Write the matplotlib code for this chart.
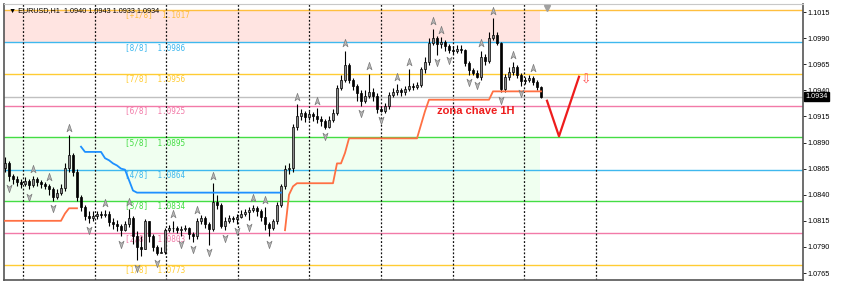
import numpy as np
import matplotlib.pyplot as plt
from matplotlib.path import Path
from matplotlib.transforms import blended_transform_factory

# hourly EURUSD candles (open = previous close)
first_open = 1.0866
closes = [
    1.0870, 1.0858, 1.0855, 1.0852, 1.0850, 1.0853, 1.0849, 1.0855, 1.0852, 1.0850,
    1.0848, 1.0845, 1.0838, 1.0842, 1.0846, 1.0866, 1.0878, 1.0862, 1.0838, 1.0828,
    1.0820, 1.0818, 1.0820, 1.0822, 1.0821, 1.0822, 1.0814, 1.0812, 1.0810, 1.0806,
    1.0812, 1.0818, 1.0800, 1.0790, 1.0788, 1.0815, 1.0800, 1.0790, 1.0784, 1.0785,
    1.0806, 1.0808, 1.0808, 1.0806, 1.0807, 1.0808, 1.0802, 1.0800, 1.0815, 1.0818,
    1.0812, 1.0807, 1.0833, 1.0830, 1.0810, 1.0815, 1.0818, 1.0817, 1.0819, 1.0822,
    1.0823, 1.0825, 1.0827, 1.0824, 1.0819, 1.0812, 1.0808, 1.0815, 1.0830, 1.0848,
    1.0865, 1.0866, 1.0905, 1.0915, 1.0918, 1.0914, 1.0917, 1.0915, 1.0913, 1.0911,
    1.0905, 1.0912, 1.0918, 1.0942, 1.0950, 1.0964, 1.0950, 1.0944, 1.0937, 1.0930,
    1.0935, 1.0938, 1.0935, 1.0922, 1.0920, 1.0925, 1.0936, 1.0938, 1.0940, 1.0938,
    1.0941, 1.0944, 1.0943, 1.0945, 1.0960, 1.0967, 1.0985, 1.0990, 1.0984, 1.0986,
    1.0982, 1.0979, 1.0978, 1.0980, 1.0979, 1.0966, 1.0959, 1.0957, 1.0953, 1.0972,
    1.0968, 1.0990, 1.0993, 1.0985, 1.0941, 1.0953, 1.0958, 1.0962, 1.0955, 1.0949,
    1.0950, 1.0952, 1.0948, 1.0943, 1.0934]
highs = [
    1.0876, 1.0872, 1.0860, 1.0858, 1.0855, 1.0857, 1.0855, 1.0858, 1.0857, 1.0854,
    1.0852, 1.0850, 1.0847, 1.0845, 1.0850, 1.0870, 1.0897, 1.0880, 1.0865, 1.0840,
    1.0830, 1.0824, 1.0824, 1.0824, 1.0824, 1.0825, 1.0824, 1.0818, 1.0816, 1.0812,
    1.0815, 1.0826, 1.0820, 1.0805, 1.0800, 1.0817, 1.0815, 1.0802, 1.0792, 1.0790,
    1.0808, 1.0811, 1.0815, 1.0810, 1.0810, 1.0811, 1.0809, 1.0804, 1.0818, 1.0821,
    1.0820, 1.0814, 1.0851, 1.0840, 1.0832, 1.0819, 1.0821, 1.0820, 1.0822, 1.0825,
    1.0826, 1.0828, 1.0830, 1.0829, 1.0826, 1.0828, 1.0814, 1.0817, 1.0833, 1.0850,
    1.0868, 1.0870, 1.0908, 1.0927, 1.0922, 1.0920, 1.0920, 1.0919, 1.0923, 1.0915,
    1.0913, 1.0915, 1.0922, 1.0945, 1.0955, 1.0978, 1.0966, 1.0952, 1.0946, 1.0940,
    1.0940, 1.0956, 1.0942, 1.0937, 1.0925, 1.0928, 1.0938, 1.0942, 1.0946, 1.0942,
    1.0944, 1.0960, 1.0947, 1.0948, 1.0962, 1.0972, 1.0990, 1.0999, 1.0992, 1.0991,
    1.0988, 1.0984, 1.0982, 1.0983, 1.0983, 1.0980, 1.0968, 1.0961, 1.0959, 1.0978,
    1.0975, 1.0996, 1.1009, 1.0996, 1.0986, 1.0956, 1.0962, 1.0967, 1.0964, 1.0957,
    1.0953, 1.0955, 1.0954, 1.0950, 1.0944]
lows = [
    1.0862, 1.0853, 1.0850, 1.0848, 1.0846, 1.0848, 1.0845, 1.0847, 1.0848, 1.0846,
    1.0845, 1.0840, 1.0834, 1.0836, 1.0840, 1.0844, 1.0862, 1.0858, 1.0834, 1.0824,
    1.0816, 1.0813, 1.0815, 1.0817, 1.0818, 1.0819, 1.0810, 1.0807, 1.0805, 1.0800,
    1.0805, 1.0809, 1.0793, 1.0777, 1.0781, 1.0788, 1.0795, 1.0786, 1.0782, 1.0784,
    1.0783, 1.0804, 1.0804, 1.0803, 1.0800, 1.0805, 1.0798, 1.0795, 1.0798, 1.0812,
    1.0808, 1.0792, 1.0805, 1.0826, 1.0808, 1.0806, 1.0813, 1.0814, 1.0812, 1.0818,
    1.0820, 1.0816, 1.0823, 1.0820, 1.0815, 1.0806, 1.0800, 1.0806, 1.0812, 1.0828,
    1.0845, 1.0860, 1.0862, 1.0902, 1.0912, 1.0910, 1.0912, 1.0911, 1.0909, 1.0906,
    1.0903, 1.0904, 1.0910, 1.0916, 1.0940, 1.0948, 1.0947, 1.0940, 1.0930, 1.0925,
    1.0928, 1.0933, 1.0930, 1.0918, 1.0919, 1.0918, 1.0922, 1.0934, 1.0936, 1.0935,
    1.0936, 1.0939, 1.0940, 1.0941, 1.0943, 1.0957, 1.0964, 1.0983, 1.0974, 1.0981,
    1.0978, 1.0976, 1.0975, 1.0976, 1.0976, 1.0963, 1.0955, 1.0955, 1.0952, 1.0950,
    1.0964, 1.0966, 1.0988, 1.0983, 1.0938, 1.0938, 1.0950, 1.0955, 1.0952, 1.0944,
    1.0946, 1.0948, 1.0945, 1.0940, 1.0933]

# fractal bars
up_fractals = [7, 11, 16, 25, 31, 42, 48, 52, 62, 65, 73, 78, 85, 91, 98, 101,
               107, 109, 119, 122, 127, 132]
down_fractals = [1, 6, 12, 21, 29, 33, 38, 44, 47, 51, 55, 58, 61, 66, 80, 89,
                 94, 108, 111, 116, 118, 124, 129]

# blue indicator (bars 19..69) and orange trailing line (two pieces)
blue_start = 19
blue_vals = ([1.0886, 1.0881, 1.0881, 1.0881, 1.0881, 1.0881, 1.0875, 1.0873,
              1.0870, 1.0868, 1.0865, 1.0864, 1.0854, 1.0844] + [1.0842] * 37)
orange1_start = 0
orange1_vals = [1.0815] * 15 + [1.0822] + [1.0827] * 3
orange2_start = 70
orange2_vals = ([1.0806, 1.0840, 1.0848] + [1.0851] * 10 + [1.0870, 1.0870, 1.0880]
                + [1.0894] * 18 + [1.0907, 1.0920] + [1.0931] * 16 + [1.0939] * 13)

# Murrey math levels
murrey_names = ["[+1/8]", "[8/8]", "[7/8]", "[6/8]", "[5/8]", "[4/8]", "[3/8]", "[2/8]", "[1/8]"]
murrey_levels = [1.1017, 1.0986, 1.0956, 1.0925, 1.0895, 1.0864, 1.0834, 1.0803, 1.0773]
murrey_colors = ["#ffbf3f", "#3fb8ee", "#ffcc33", "#f27aa8", "#44dd44",
                 "#3fb8ee", "#44dd44", "#f27aa8", "#ffcc33"]

bid = 1.0934
header = "EURUSD,H1  1.0940 1.0943 1.0933 1.0934"
y_ticks = [1.0765, 1.0790, 1.0815, 1.0840, 1.0865, 1.0890,
           1.0915, 1.0940, 1.0965, 1.0990, 1.1015]
grid_x = [4.5, 22.4, 40.3, 58.2, 76.1, 94.0, 111.9, 129.8, 147.7]

# hand-drawn annotation
v_x = [135.5, 138.5, 143.5]
v_y = [1.0930, 1.0896, 1.0953]
zone_text = "zona chave 1H"

closes = np.array(closes)
opens = np.array([first_open] + list(closes[:-1]))
highs = np.maximum(np.array(highs), np.maximum(opens, closes))
lows = np.minimum(np.array(lows), np.minimum(opens, closes))
x = np.arange(len(closes))
zone_end = len(closes) - 1.25

fig = plt.figure(figsize=(8.48, 2.91), dpi=100)
ax = fig.add_axes([4 / 848, 11 / 291, 799 / 848, 276 / 291])
ax.set_xlim(-0.25, 199.5)
ax.set_ylim(1.07583, 1.10227)

# shaded zones
ax.fill_between([-0.25, zone_end], murrey_levels[1], murrey_levels[0], color="#ffe4e1", lw=0, zorder=0)
ax.fill_between([-0.25, zone_end], murrey_levels[6], murrey_levels[4], color="#f0fff0", lw=0, zorder=0)

for gx in grid_x:
    ax.axvline(gx, color="#111111", lw=0.9, ls=(0, (1.5, 1.5)), zorder=1.5)

for name, lev, col in zip(murrey_names, murrey_levels, murrey_colors):
    ax.axhline(lev, color=col, lw=1, zorder=1)
    ax.text(30, lev - 0.00005, f"{name}  {lev:.4f}", color=col, fontsize=5.6,
            family="DejaVu Sans Mono", va="top", ha="left", zorder=2)
ax.axhline(bid, color="#c0c0c0", lw=1, zorder=1)

# candles
up = closes >= opens
ax.vlines(x, lows, highs, color="black", lw=0.8, zorder=3)
body = np.where(np.abs(closes - opens) < 0.00005, 0.00005, closes - opens)
ax.bar(x[up], body[up], bottom=opens[up], width=0.7, color="#8c8c8c",
       edgecolor="black", lw=0.5, zorder=3.5)
ax.bar(x[~up], body[~up], bottom=opens[~up], width=0.7, color="black",
       edgecolor="black", lw=0.5, zorder=3.5)

# indicator lines
ax.plot(np.arange(len(blue_vals)) + blue_start, blue_vals, color="#1e90ff", lw=1.3, zorder=4)
ax.plot(np.arange(len(orange1_vals)) + orange1_start, orange1_vals, color="#ff7043", lw=1.3, zorder=4)
ax.plot(np.arange(len(orange2_vals)) + orange2_start, orange2_vals, color="#ff7043", lw=1.3, zorder=4)

# fractal arrows
up_arrow = Path([(0, 1), (0.6, -0.8), (0, -0.3), (-0.6, -0.8), (0, 1)],
                [Path.MOVETO, Path.LINETO, Path.LINETO, Path.LINETO, Path.CLOSEPOLY])
down_arrow = Path([(0, -1), (0.6, 0.8), (0, 0.3), (-0.6, 0.8), (0, -1)],
                  [Path.MOVETO, Path.LINETO, Path.LINETO, Path.LINETO, Path.CLOSEPOLY])
ax.plot(up_fractals, highs[up_fractals] + 0.0007, ls="none", marker=up_arrow, ms=6,
        mfc="#b8b8b8", mec="#7a7a7a", mew=0.5, zorder=5)
ax.plot(down_fractals, lows[down_fractals] - 0.0007, ls="none", marker=down_arrow, ms=6,
        mfc="#b8b8b8", mec="#7a7a7a", mew=0.5, zorder=5)

# annotation
ax.plot(v_x, v_y, color="#ee1c1c", lw=1.6, zorder=6)
ax.text(v_x[-1] + 0.6, v_y[-1] - 0.0003, "⇩", color="#ff5555", fontsize=9,
        ha="left", va="center", family=["DejaVu Sans"], zorder=6)
ax.text(117.75, 1.0920, zone_text, color="#ee1c1c", fontsize=8, fontweight="bold",
        family=["Liberation Sans", "DejaVu Sans"], ha="center", va="center", zorder=6)

# chart shift marker
trans = blended_transform_factory(ax.transData, ax.transAxes)
ax.plot([135.5], [0.985], marker="v", ms=4, color="#a0a0a0", transform=trans,
        clip_on=False, zorder=6)

ax.text(0.006, 0.975, "▼ " + header, transform=ax.transAxes, fontsize=5.2,
        family=["Liberation Sans", "DejaVu Sans"], ha="left", va="center", zorder=7)

# price scale on the right
ax.yaxis.tick_right()
ax.set_yticks(y_ticks)
ax.set_yticklabels([f"{t:.4f}" for t in y_ticks], fontsize=5.2, family="Liberation Sans")
ax.tick_params(axis="y", length=2, pad=1.5, width=0.6)
ax.set_xticks([])
for side in ["left", "bottom", "right"]:
    ax.spines[side].set_color("#555555")
    ax.spines[side].set_linewidth(1.2)
ax.spines["top"].set_color("#c8c8c8")

tb = blended_transform_factory(ax.transAxes, ax.transData)
ax.text(1.003, bid, f"{bid:.4f}", transform=tb, fontsize=5.2, color="white",
        family="Liberation Sans", ha="left", va="center", zorder=8,
        bbox=dict(boxstyle="square,pad=0.15", fc="black", ec="black"))

fig.savefig("out.png", dpi=100)
